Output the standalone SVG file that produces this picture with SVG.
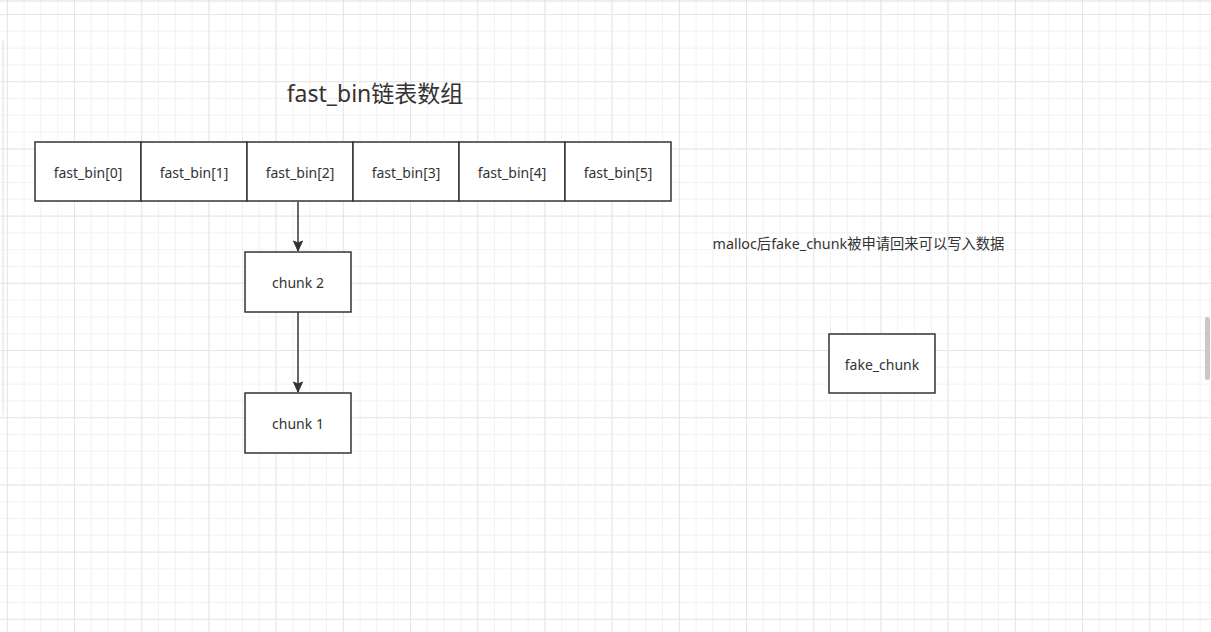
<svg xmlns="http://www.w3.org/2000/svg" width="1211" height="632" viewBox="0 0 1211 632">
<style>
.box{fill:#ffffff;stroke:#333333;stroke-width:1.5}
.lbl{font-family:"Noto Sans","Noto Sans CJK SC",sans-serif;font-size:14px;fill:#333333;text-anchor:middle;dominant-baseline:central}
.edge{stroke:#333333;stroke-width:1.5;fill:none}
</style>
<defs>
<pattern id="minor" patternUnits="userSpaceOnUse" x="6.8" y="14" width="16.8" height="16.8">
<path d="M0 0.5H16.8M0.5 0V16.8" stroke="#f2f2f2" stroke-width="1" fill="none"/>
</pattern>
<pattern id="major" patternUnits="userSpaceOnUse" x="6.8" y="14" width="67.2" height="67.2">
<path d="M0 0.5H67.2M0.5 0V67.2" stroke="#e6e6e6" stroke-width="1" fill="none"/>
</pattern>
<marker id="arr" markerWidth="12" markerHeight="12" refX="11" refY="6" orient="auto" markerUnits="userSpaceOnUse">
<path d="M1 1.5L11 6L1 10.5L3 6Z" fill="#333333" stroke="#333333" stroke-width="1"/>
</marker>
</defs>
<rect width="1211" height="632" fill="#ffffff"/>
<rect width="1211" height="632" fill="url(#minor)"/>
<rect width="1211" height="632" fill="url(#major)"/>
<line x1="0" y1="1" x2="1211" y2="1" stroke="#dddddd"/>
<line x1="3" y1="40" x2="3" y2="415" stroke="#dddddd"/>
<rect x="1205" y="317" width="5" height="63" rx="2" fill="#c8c8c8"/>
<text x="375" y="93" class="lbl" style="font-size:23px">fast_bin链表数组</text>
<text x="858.5" y="243" class="lbl" style="font-size:14.3px">malloc后fake_chunk被申请回来可以写入数据</text>
<g id="connectors">
<line class="edge" x1="298" y1="202" x2="298" y2="251" marker-end="url(#arr)"/>
<line class="edge" x1="298" y1="312" x2="298" y2="392" marker-end="url(#arr)"/>
</g>
<g id="bin0"><rect class="box" x="35" y="142" width="106" height="59"/><text class="lbl" x="88" y="172">fast_bin[0]</text></g>
<g id="bin1"><rect class="box" x="141" y="142" width="106" height="59"/><text class="lbl" x="194" y="172">fast_bin[1]</text></g>
<g id="bin2"><rect class="box" x="247" y="142" width="106" height="59"/><text class="lbl" x="300" y="172">fast_bin[2]</text></g>
<g id="bin3"><rect class="box" x="353" y="142" width="106" height="59"/><text class="lbl" x="406" y="172">fast_bin[3]</text></g>
<g id="bin4"><rect class="box" x="459" y="142" width="106" height="59"/><text class="lbl" x="512" y="172">fast_bin[4]</text></g>
<g id="bin5"><rect class="box" x="565" y="142" width="106" height="59"/><text class="lbl" x="618" y="172">fast_bin[5]</text></g>
<g id="chunk2"><rect class="box" x="245" y="252" width="106" height="60"/><text class="lbl" x="298" y="282">chunk 2</text></g>
<g id="chunk1"><rect class="box" x="245" y="393" width="106" height="60"/><text class="lbl" x="298" y="423">chunk 1</text></g>
<g id="fake_chunk"><rect class="box" x="829" y="334" width="106" height="59"/><text class="lbl" x="882" y="364">fake_chunk</text></g>
</svg>
